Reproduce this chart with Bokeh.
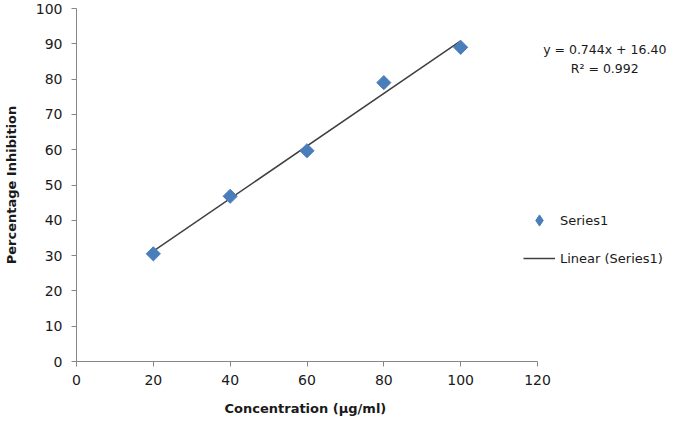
from bokeh.plotting import figure
from bokeh.models import Range1d, Legend, LegendItem, Label, Title
from bokeh.embed import file_html
from bokeh.resources import INLINE
import numpy as np

concentration = [20, 40, 60, 80, 100]
inhibition = [30.5, 46.8, 59.7, 79.0, 89.0]
slope = 0.744
intercept = 16.40
r_squared = 0.992
x_ticks = [0, 20, 40, 60, 80, 100, 120]
y_ticks = [0, 10, 20, 30, 40, 50, 60, 70, 80, 90, 100]

FONT = "DejaVu Sans"
GRAY = "#868686"
TXT = "#1a1a1a"
BLUE = "#4A7EBB"

W, H = 677, 428
LEFT, TOP, BOTTOM, RIGHT = 76, 8, 67, 0
frame_w = W - LEFT - RIGHT
axis_px = 461  # pixel length of the 0..120 axis
x_end = 120 * frame_w / axis_px

p = figure(width=W, height=H, output_backend="svg", toolbar_location=None,
           x_range=Range1d(0, x_end), y_range=Range1d(0, 100),
           min_border_left=LEFT, min_border_right=RIGHT, min_border_top=TOP,
           min_border_bottom=BOTTOM)
p.outline_line_color = None
p.xgrid.visible = False
p.ygrid.visible = False

for ax in (p.xaxis, p.yaxis):
    ax.axis_line_color = GRAY
    ax.major_tick_line_color = GRAY
    ax.minor_tick_line_color = None
    ax.major_tick_in = 0
    ax.major_tick_out = 5
    ax.major_label_text_font = FONT
    ax.major_label_text_font_size = "14px"
    ax.major_label_text_color = TXT

p.xaxis.ticker = x_ticks
p.yaxis.ticker = y_ticks
p.xaxis.bounds = (0, 120)
p.yaxis.axis_label = "Percentage Inhibition"
p.yaxis.axis_label_text_font = FONT
p.yaxis.axis_label_text_font_size = "13px"
p.yaxis.axis_label_text_font_style = "bold"
p.yaxis.axis_label_text_color = TXT
p.xaxis.major_label_standoff = 8
p.yaxis.major_label_standoff = 9
p.yaxis.axis_label_standoff = 14

xtitle = Title(text="Concentration (µg/ml)", align="left", offset=148,
               text_font=FONT, text_font_size="13px", text_font_style="bold",
               text_color=TXT, standoff=22)
p.add_layout(xtitle, "below")

xs = np.array([concentration[0], concentration[-1]])
trend = p.line(xs, slope * xs + intercept, line_color="#404040", line_width=1.5)
pts = p.scatter(concentration, inhibition, marker="square", angle=np.pi / 4, size=10,
                fill_color=BLUE, line_color=BLUE)
# legend-only twin (legend glyphs are never rotated, so use a diamond marker)
pts_key = p.scatter(concentration, inhibition, marker="diamond", size=12,
                    fill_color=BLUE, line_color=BLUE, visible=False)

legend = Legend(items=[LegendItem(label="Series1", renderers=[pts_key]),
                       LegendItem(label="Linear (Series1)", renderers=[trend])],
                location=(447, 89), border_line_color=None, background_fill_alpha=0,
                label_text_font=FONT, label_text_font_size="13px", label_text_color=TXT,
                glyph_width=32, glyph_height=28, spacing=10, label_standoff=5,
                padding=10, margin=0)
p.add_layout(legend, "center")

eq = Label(x=137.5, y=88.5, text=f"y = {slope:.3f}x + {intercept:.2f}", text_align="center",
           text_baseline="middle", text_font=FONT, text_font_size="12.5px", text_color=TXT)
r2 = Label(x=137.5, y=83.0, text=f"R² = {r_squared:.3f}", text_align="center",
           text_baseline="middle", text_font=FONT, text_font_size="12.5px", text_color=TXT)
p.add_layout(eq)
p.add_layout(r2)

open("out.html", "w").write(file_html(p, INLINE))
